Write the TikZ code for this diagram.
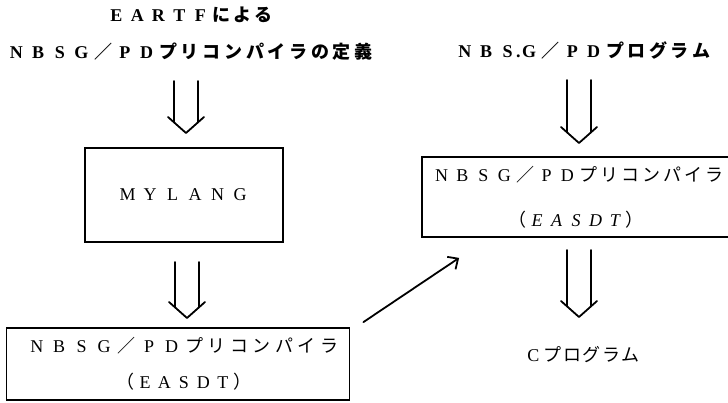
\documentclass[tikz,border=0pt]{standalone}
\usepackage{fontspec}
\setmainfont{Liberation Serif}
\newfontfamily\jp{Noto Sans CJK JP}
\usetikzlibrary{arrows.meta,calc}
\newlength\pitch
\makeatletter
\def\spc#1{\spc@#1\relax}
\def\spc@#1{\ifx\relax#1\else\makebox[\pitch]{#1}\expandafter\spc@\fi}
\makeatother
\newcommand\lx[1]{{\spc{#1}}}
\newcommand\jx[1]{{\jp\spc{#1}}}
\newcommand\dblarr[2]{%
  \draw[darr] ($(#1)+(-12,0)$) -- ($(#2)+(-12,-11)$);
  \draw[darr] ($(#1)+(12,0)$) -- ($(#2)+(12,-11)$);
  \draw[darr] ($(#2)+(-18,-16)$) -- (#2) -- ($(#2)+(18,-16)$);}
\begin{document}
\begin{tikzpicture}[x=1pt,y=-1pt,
  txt/.style={inner sep=0pt, font=\fontsize{18}{23}\selectfont},
  boldtxt/.style={inner sep=0pt, font=\bfseries\fontsize{18}{23}\selectfont},
  boxx/.style={draw, line width=1.8pt, inner sep=0pt, align=center, font=\fontsize{18}{23}\selectfont},
  darr/.style={line width=1.8pt, line cap=round, line join=round},
  sarr/.style={line width=1.8pt, line cap=round, -{Straight Barb[length=8pt,width=15pt]}}]
\path[use as bounding box] (0,0) rectangle (728,402);
\clip (0,0) rectangle (728,402);
\fill[white] (0,0) rectangle (728,402);
% texts
\node[boldtxt] (t1) at (190,15) {\pitch=21pt\relax\lx{EARTF}\jx{による}};
\node[boldtxt] (t2) at (190,52) {\pitch=21.7pt\relax\lx{NBSG}\jx{／}\lx{PD}\jx{プリコンパイラの定義}};
\node[boldtxt] (t3) at (583,50) {\pitch=21.5pt\relax\lx{NBS}\makebox[0pt]{.}\lx{G}\jx{／}\lx{PD}\jx{プログラム}};
% boxes
\node[boxx, minimum width=198pt, minimum height=94pt] (mylang) at (184,195) {\pitch=22.5pt\relax\lx{MYLANG}};
\node[boxx, minimum width=343pt, minimum height=72pt] (bl) at (178,364)
  {\pitch=22.5pt\relax\hspace*{10pt}\lx{NBSG}\jx{／}\lx{PD}\jx{プリコンパイラ}\\[13pt]\pitch=19.5pt\relax\hspace*{12pt}\jx{（}\lx{EASDT}\jx{）}};
\node[boxx, minimum width=318pt, minimum height=80pt] (rb) at (581,197)
  {\pitch=21pt\relax\hspace*{-6pt}\lx{NBSG}\jx{／}\lx{PD}\jx{プリコンパイラ}\\[22pt]\pitch=19.5pt\relax\hspace*{-10pt}\jx{（}{\itshape\lx{EASDT}}\jx{）}};
\node[txt] (cp) at (582,355) {\pitch=19.5pt\relax\lx{C}\jx{プログラム}};
% double arrows
\coordinate (a1s) at (186,81);  \coordinate (a1e) at (186,133);
\coordinate (a2s) at (187,262); \coordinate (a2e) at (187,318);
\coordinate (a3s) at (579,80);  \coordinate (a3e) at (579,143);
\coordinate (a4s) at (579,250); \coordinate (a4e) at (579,317);
\dblarr{a1s}{a1e}
\dblarr{a2s}{a2e}
\dblarr{a3s}{a3e}
\dblarr{a4s}{a4e}
% diagonal arrow
\coordinate (ds) at ($(bl.north east)+(13,-5)$);
\coordinate (de) at ($(rb.south west)+(38,20)$);
\draw[sarr] (ds) -- (de);
\end{tikzpicture}
\end{document}
